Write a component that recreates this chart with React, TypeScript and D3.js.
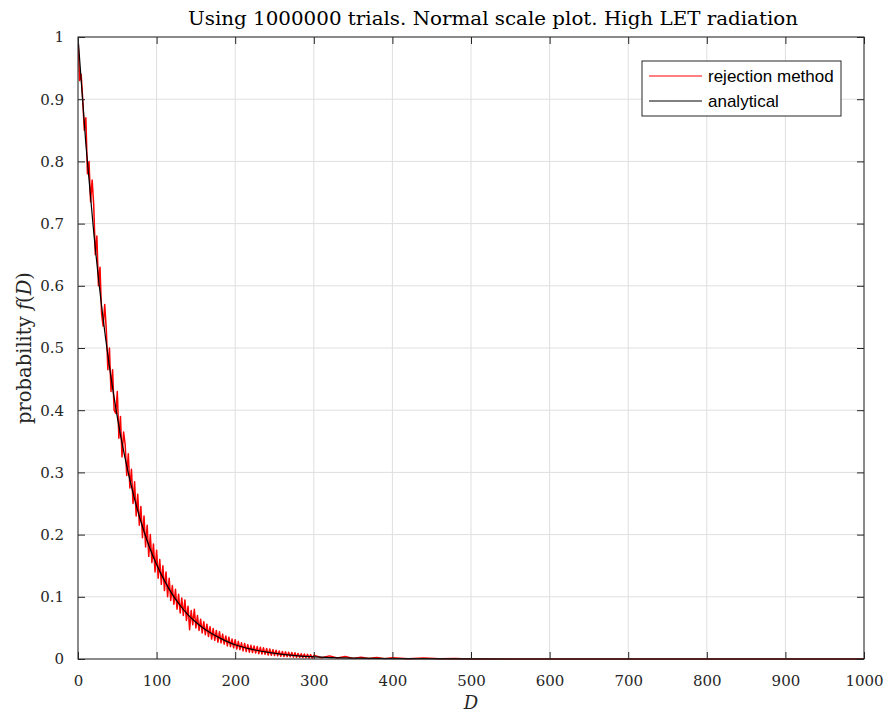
import { useEffect, useRef } from "react";
import * as d3 from "d3";

// rejection method histogram, bins every 2 units of D from 0 to 300
const redStep = 2;
const redValues = [
  1.0, 0.93, 0.94, 0.9, 0.85, 0.87, 0.78, 0.8, 0.735, 0.77,
  0.73, 0.65, 0.68, 0.6, 0.63, 0.555, 0.535, 0.57, 0.53, 0.465,
  0.5, 0.43, 0.465, 0.4, 0.395, 0.43, 0.355, 0.39, 0.325, 0.365,
  0.345, 0.295, 0.33, 0.275, 0.305, 0.25, 0.285, 0.23, 0.265, 0.215,
  0.245, 0.195, 0.23, 0.18, 0.215, 0.165, 0.2, 0.155, 0.185, 0.14,
  0.175, 0.13, 0.16, 0.12, 0.15, 0.11, 0.14, 0.1, 0.13, 0.094,
  0.118, 0.088, 0.112, 0.08, 0.104, 0.074, 0.098, 0.07, 0.095, 0.062,
  0.085, 0.047, 0.078, 0.055, 0.08, 0.05, 0.07, 0.046, 0.064, 0.042,
  0.06, 0.039, 0.056, 0.036, 0.052, 0.032, 0.049, 0.03, 0.046, 0.027,
  0.044, 0.026, 0.04, 0.024, 0.037, 0.021, 0.035, 0.02, 0.032, 0.018,
  0.031, 0.016, 0.028, 0.015, 0.026, 0.013, 0.025, 0.012, 0.023, 0.011,
  0.022, 0.0105, 0.021, 0.0095, 0.02, 0.0085, 0.019, 0.008, 0.018, 0.0075,
  0.017, 0.0065, 0.016, 0.006, 0.015, 0.0055, 0.014, 0.005, 0.013, 0.0045,
  0.012, 0.004, 0.0115, 0.0038, 0.011, 0.0035, 0.0105, 0.003, 0.01, 0.0028,
  0.009, 0.0025, 0.0085, 0.0022, 0.008, 0.002, 0.0075, 0.0018, 0.007, 0.0015,
  0.006,
];
// tail of the histogram, 300..1000
const redTailD = [310, 320, 330, 340, 350, 360, 370, 380, 390, 400, 420, 440, 460, 480, 500, 600, 700, 1000];
const redTailValues = [0.002, 0.005, 0.0015, 0.004, 0.001, 0.003, 0.0008, 0.0025, 0.0006, 0.002, 0.0005, 0.0015, 0.0003, 0.001, 0.0002, 0.0001, 0, 0];

// analytical curve
const anaD = [0, 10, 20, 30, 40, 50, 60, 70, 80, 90, 100, 110, 120, 130, 140, 150, 160, 170, 180, 190, 200, 220, 240, 260, 280, 300, 350, 400, 500, 600, 1000];
const anaValues = [1.0, 0.828, 0.686, 0.568, 0.47, 0.389, 0.322, 0.267, 0.221, 0.183, 0.152, 0.126, 0.104, 0.086, 0.071, 0.059, 0.049, 0.041, 0.034, 0.028, 0.023, 0.016, 0.011, 0.0075, 0.005, 0.0035, 0.0014, 0.0005, 0.0001, 0, 0];

const xTicks = [0, 100, 200, 300, 400, 500, 600, 700, 800, 900, 1000];
const yTicks = [0, 0.1, 0.2, 0.3, 0.4, 0.5, 0.6, 0.7, 0.8, 0.9, 1];

const W = 889;
const H = 717;
const m = { top: 37, right: 25, bottom: 58, left: 78 };

export default function App() {
  const ref = useRef<SVGSVGElement>(null);

  useEffect(() => {
    if (!ref.current) return;
    const root = d3.select(ref.current);
    root.selectAll("*").remove();
    const iW = W - m.left - m.right;
    const iH = H - m.top - m.bottom;

    const x = d3.scaleLinear().domain([0, 1000]).range([0, iW]);
    const y = d3.scaleLinear().domain([0, 1]).range([iH, 0]);
    const axisColor = "#262626";
    const serif = "'DejaVu Serif', serif";

    root.append("rect").attr("width", W).attr("height", H).attr("fill", "#fff");

    const g = root.append("g").attr("transform", `translate(${m.left},${m.top})`);

    // grid
    g.selectAll(".gx").data(xTicks).join("line")
      .attr("x1", d => x(d)).attr("x2", d => x(d))
      .attr("y1", 0).attr("y2", iH)
      .attr("stroke", "#dfdfdf").attr("stroke-width", 1);
    g.selectAll(".gy").data(yTicks).join("line")
      .attr("x1", 0).attr("x2", iW)
      .attr("y1", d => y(d)).attr("y2", d => y(d))
      .attr("stroke", "#dfdfdf").attr("stroke-width", 1);

    // data
    const red: [number, number][] = redValues.map((v, i) => [i * redStep, v]);
    redTailD.forEach((d, i) => red.push([d, redTailValues[i]]));
    const ana: [number, number][] = anaD.map((d, i) => [d, anaValues[i]]);

    const clip = root.append("defs").append("clipPath").attr("id", "clip");
    clip.append("rect").attr("width", iW).attr("height", iH + 1);

    g.append("path").datum(red)
      .attr("clip-path", "url(#clip)")
      .attr("fill", "none").attr("stroke", "#ff0000").attr("stroke-width", 1.5)
      .attr("stroke-linejoin", "round")
      .attr("d", d3.line().x(d => x(d[0])).y(d => y(d[1])));

    g.append("path").datum(ana)
      .attr("clip-path", "url(#clip)")
      .attr("fill", "none").attr("stroke", "#000").attr("stroke-width", 1.2)
      .attr("d", d3.line().x(d => x(d[0])).y(d => y(d[1])).curve(d3.curveMonotoneX));

    // box
    g.append("rect").attr("width", iW).attr("height", iH)
      .attr("fill", "none").attr("stroke", axisColor).attr("stroke-width", 1);

    // axes with inward ticks on all sides
    const styleAxis = (sel: d3.Selection<SVGGElement, unknown, null, undefined>) => {
      sel.select(".domain").remove();
      sel.selectAll(".tick line").attr("stroke", axisColor);
      sel.selectAll("text").attr("fill", axisColor).style("font-family", serif).style("font-size", "15px");
    };
    g.append("g").attr("transform", `translate(0,${iH})`)
      .call(d3.axisBottom(x).tickValues(xTicks).tickSizeInner(-7).tickSizeOuter(0).tickPadding(16).tickFormat(d3.format("d")))
      .call(styleAxis);
    g.append("g")
      .call(d3.axisTop(x).tickValues(xTicks).tickSizeInner(-7).tickSizeOuter(0).tickFormat(() => ""))
      .call(styleAxis);
    g.append("g")
      .call(d3.axisLeft(y).tickValues(yTicks).tickSizeInner(-7).tickSizeOuter(0).tickPadding(14).tickFormat(d => String(d)))
      .call(styleAxis);
    g.append("g").attr("transform", `translate(${iW},0)`)
      .call(d3.axisRight(y).tickValues(yTicks).tickSizeInner(-7).tickSizeOuter(0).tickFormat(() => ""))
      .call(styleAxis);

    // title
    root.append("text").attr("x", 493).attr("y", 25).attr("text-anchor", "middle")
      .attr("fill", "#000").style("font-family", serif).style("font-size", "18.5px")
      .attr("textLength", 610).attr("lengthAdjust", "spacingAndGlyphs")
      .text("Using 1000000 trials. Normal scale plot. High LET radiation");

    // x label
    root.append("text").attr("x", m.left + iW / 2).attr("y", 709).attr("text-anchor", "middle")
      .attr("fill", axisColor).style("font-family", serif).style("font-size", "18px").style("font-style", "italic")
      .text("D");

    // y label
    const yl = root.append("text").attr("transform", `translate(31,${m.top + iH / 2}) rotate(-90)`)
      .attr("text-anchor", "middle").attr("fill", axisColor)
      .style("font-family", serif).style("font-size", "19.5px");
    yl.append("tspan").text("probability ");
    yl.append("tspan").style("font-style", "italic").text("f");
    yl.append("tspan").text("(");
    yl.append("tspan").style("font-style", "italic").text("D");
    yl.append("tspan").text(")");

    // legend
    const lg = root.append("g").attr("transform", "translate(642,61)");
    lg.append("rect").attr("width", 199).attr("height", 55)
      .attr("fill", "#fff").attr("stroke", axisColor).attr("stroke-width", 1);
    const items = [
      { label: "rejection method", color: "#ff0000" },
      { label: "analytical", color: "#000" },
    ];
    items.forEach((it, i) => {
      const yy = 15 + i * 25;
      lg.append("line").attr("x1", 7).attr("x2", 60).attr("y1", yy).attr("y2", yy)
        .attr("stroke", it.color).attr("stroke-width", 1);
      lg.append("text").attr("x", 66).attr("y", yy + 6)
        .attr("fill", "#000").style("font-family", "'Liberation Sans', Arial, sans-serif").style("font-size", "17px")
        .text(it.label);
    });
  }, []);

  return (
    <div style={{ position: "absolute", left: 0, top: 0 }}>
      <svg ref={ref} width={W} height={H} style={{ display: "block" }} />
    </div>
  );
}
